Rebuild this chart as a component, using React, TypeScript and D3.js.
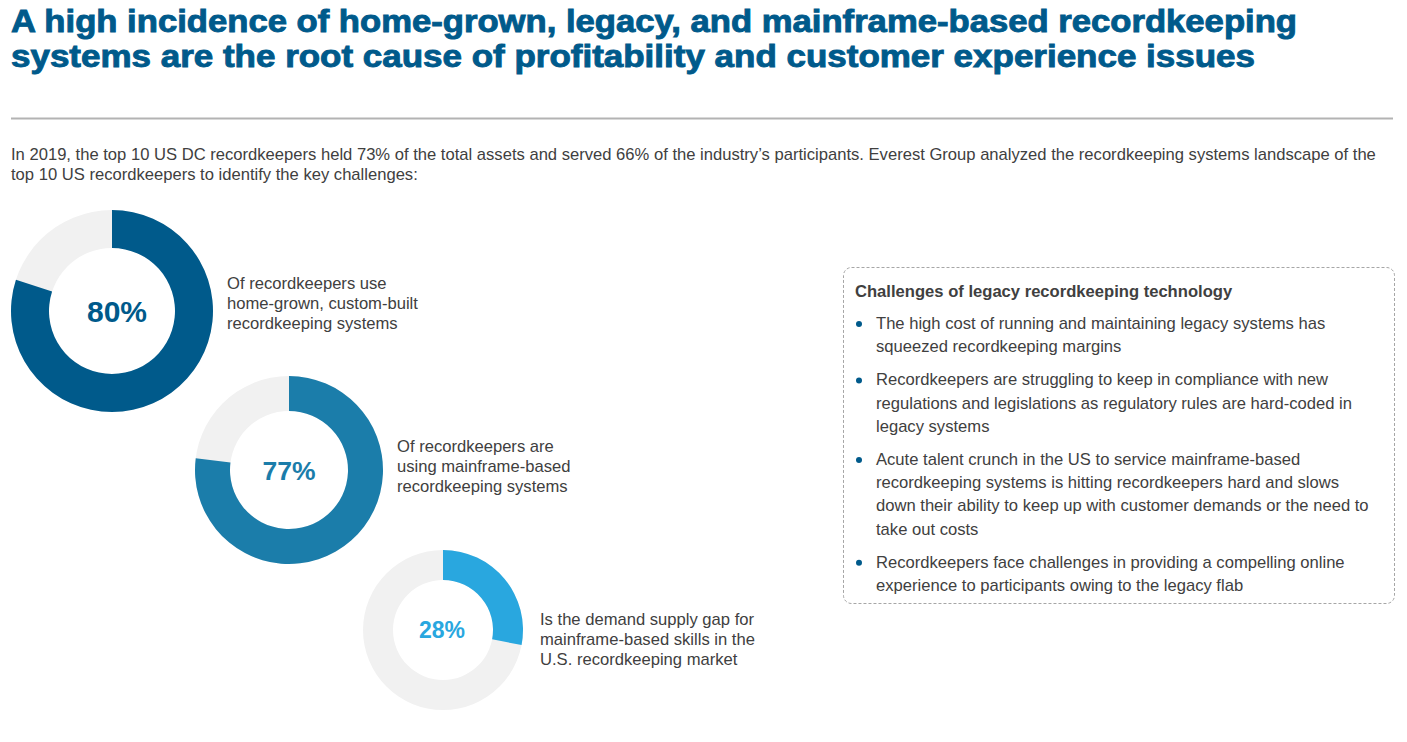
import React from "react";
import * as d3 from "d3";

const titleLines = [
  "A high incidence of home-grown, legacy, and mainframe-based recordkeeping",
  "systems are the root cause of profitability and customer experience issues",
];
const introLines = [
  "In 2019, the top 10 US DC recordkeepers held 73% of the total assets and served 66% of the industry’s participants. Everest Group analyzed the recordkeeping systems landscape of the",
  "top 10 US recordkeepers to identify the key challenges:",
];
const donutValues = [80, 77, 28];
const donutColors = ["#005a8b", "#1b7daa", "#29a7df"];
const donutLabels = [
  ["Of recordkeepers use", "home-grown, custom-built", "recordkeeping systems"],
  ["Of recordkeepers are", "using mainframe-based", "recordkeeping systems"],
  ["Is the demand supply gap for", "mainframe-based skills in the", "U.S. recordkeeping market"],
];
const boxTitle = "Challenges of legacy recordkeeping technology";
const bullets = [
  ["The high cost of running and maintaining legacy systems has", "squeezed recordkeeping margins"],
  [
    "Recordkeepers are struggling to keep in compliance with new",
    "regulations and legislations as regulatory rules are hard-coded in",
    "legacy systems",
  ],
  [
    "Acute talent crunch in the US to service mainframe-based",
    "recordkeeping systems is hitting recordkeepers hard and slows",
    "down their ability to keep up with customer demands or the need to",
    "take out costs",
  ],
  ["Recordkeepers face challenges in providing a compelling online", "experience to participants owing to the legacy flab"],
];

// layout (not data)
const titleWidths = [1286, 1244];
const donutGeom = [
  { cx: 112, cy: 311, r: 101, ir: 63, fs: 30, tx: 5, lx: 227, ly: 289 },
  { cx: 289, cy: 470, r: 94, ir: 59, fs: 26.5, tx: 0, lx: 397, ly: 452 },
  { cx: 443, cy: 630, r: 80, ir: 50, fs: 23, tx: -1, lx: 540, ly: 625 },
];

const FONT = "'Liberation Sans', Arial, sans-serif";
const TEXT = "#404040";
const FS = 16.6;

export default function App() {
  const pct = d3.scaleLinear().domain([0, 100]).range([0, 2 * Math.PI]);
  const bulletStarts: number[] = [];
  let y = 329;
  bullets.forEach((b) => {
    bulletStarts.push(y);
    y += b.length * 23.2 + 10;
  });
  return (
    <svg
      width={1407}
      height={742}
      style={{ position: "absolute", left: 0, top: 0, background: "#fff" }}
      fontFamily={FONT}
    >
      {titleLines.map((t, i) => (
        <text
          key={i}
          x={11}
          y={32 + i * 35}
          fontSize={30.5}
          fontWeight="bold"
          fill="#005a8b"
          stroke="#005a8b"
          strokeWidth={0.9}
          textLength={titleWidths[i]}
          lengthAdjust="spacingAndGlyphs"
        >
          {t}
        </text>
      ))}
      <line x1={11} x2={1393} y1={118.5} y2={118.5} stroke="#b3b3b3" strokeWidth={2} />
      {introLines.map((t, i) => (
        <text key={i} x={11} y={160 + i * 20} fontSize={FS} fill={TEXT}>
          {t}
        </text>
      ))}
      {donutValues.map((v, i) => {
        const g = donutGeom[i];
        const arc = d3.arc().innerRadius(g.ir).outerRadius(g.r);
        return (
          <g key={i}>
            <g transform={`translate(${g.cx},${g.cy})`}>
              <path d={arc({ startAngle: 0, endAngle: 2 * Math.PI } as any) || ""} fill="#f1f1f1" />
              <path d={arc({ startAngle: 0, endAngle: pct(v) } as any) || ""} fill={donutColors[i]} />
              <text
                x={g.tx}
                y={g.fs * 0.36}
                textAnchor="middle"
                fontSize={g.fs}
                fontWeight="bold"
                fill={donutColors[i]}
              >
                {v}%
              </text>
            </g>
            {donutLabels[i].map((l, j) => (
              <text key={j} x={g.lx} y={g.ly + j * 20} fontSize={FS} fill={TEXT}>
                {l}
              </text>
            ))}
          </g>
        );
      })}
      <rect
        x={843.5}
        y={267.5}
        width={551}
        height={336}
        rx={8}
        fill="none"
        stroke="#a6a6a6"
        strokeDasharray="3,2"
      />
      <text x={855} y={297} fontSize={FS} fontWeight="bold" fill={TEXT}>
        {boxTitle}
      </text>
      {bullets.map((b, i) => (
        <g key={i}>
          <circle cx={859} cy={bulletStarts[i] - 5} r={3} fill="#005a8b" />
          {b.map((l, j) => (
            <text key={j} x={876} y={bulletStarts[i] + j * 23.2} fontSize={FS} fill={TEXT}>
              {l}
            </text>
          ))}
        </g>
      ))}
    </svg>
  );
}
